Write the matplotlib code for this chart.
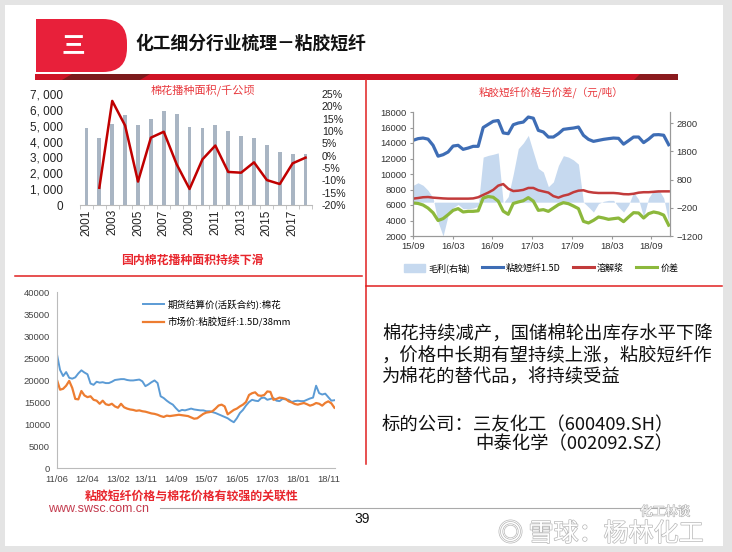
import matplotlib
matplotlib.use('Agg')
import matplotlib.pyplot as plt
from matplotlib.patches import Rectangle, FancyBboxPatch, Polygon, Patch
from matplotlib.lines import Line2D
import matplotlib.patheffects as pe
import numpy as np

plt.rcParams['font.family'] = ['Noto Sans CJK SC', 'DejaVu Sans']

# ---- chart 1: cotton planting area (thousand ha) and yoy change
years = list(range(2001, 2019))
area_kha = [4830, 4200, 5110, 5690, 5060, 5410, 5930, 5750, 4950, 4850,
            5040, 4690, 4350, 4220, 3800, 3350, 3230, 3200]
yoy_years = list(range(2002, 2019))
yoy_pct = [-13.0, 22.2, 12.2, -10.5, 7.3, 9.7, -3.5, -13.5, -1.5, 4.1,
           -6.6, -6.9, -2.7, -9.9, -11.5, -3.1, -0.8]

# ---- chart 2: VSF price / dissolving pulp / spread (left), margin (right)
m2_labels = ['15/09', '16/03', '16/09', '17/03', '17/09', '18/03', '18/09']
vsf_price = [14340, 14560, 14640, 14500, 13700, 12300, 12490, 12840, 13610, 13700,
             13180, 13350, 13570, 13570, 16000, 16400, 16800, 16900, 15300, 15200,
             16360, 16580, 16700, 17350, 17200, 15630, 15420, 14770, 14770, 15200,
             15760, 15850, 15930, 16060, 14990, 14470, 14210, 14340, 14470, 14560,
             14640, 14600, 13850, 14300, 14770, 14770, 14050, 14500, 15050, 15080,
             15000, 13780]
pulp_price = [6820, 6900, 7000, 7030, 6950, 6900, 6850, 6820, 6820, 6820,
              6820, 6820, 6850, 7000, 7300, 7600, 7950, 8500, 8700, 8100,
              7800, 7850, 7950, 8200, 8200, 7900, 7750, 7600, 7150, 6950,
              7200, 7350, 7650, 7850, 7900, 7700, 7600, 7550, 7550, 7550,
              7550, 7500, 7400, 7380, 7450, 7590, 7650, 7650, 7700, 7750,
              7760, 7760]
spread = [6260, 6200, 6000, 5600, 5000, 4000, 4240, 4750, 5310, 5530,
          5100, 5180, 5180, 5250, 6900, 7100, 7000, 6500, 5200, 4800,
          6200, 6390, 6550, 6950, 6500, 5310, 5400, 5180, 5610, 6040,
          6300, 6170, 5870, 5530, 3890, 3680, 4020, 4450, 4320, 4150,
          4240, 4320, 3850, 4450, 5010, 4970, 4320, 4880, 5100, 4970,
          4700, 3400]
margin = [595, 690, 600, 420, 150, -700, -1200, -470, -200, -80,
          -230, -230, -210, -140, 1600, 1660, 1700, 1750, -30, 200,
          1000, 1900, 2100, 2370, 1780, 1200, 1070, 550, 720, 1300,
          1650, 1600, 1500, 1350, 0, -170, -350, -50, 30, 65,
          65, -170, -350, -100, 350, 100, -530, 150, 420, 450,
          150, -700]

# ---- chart 3: cotton futures vs VSF market price, monthly from 2011/06
m3_ticks = [0, 10, 20, 29, 39, 49, 59, 69, 79, 89]
m3_labels = ['11/06', '12/04', '13/02', '13/11', '14/09', '15/07', '16/05', '17/03', '18/01', '18/11']
cotton_fut = [25800, 22300, 20900, 21800, 20500, 20300, 20600, 21500, 22200, 21700,
              21300, 19200, 18900, 19600, 19400, 19500, 19300, 19300, 19600, 20000,
              20100, 20200, 20200, 20000, 19900, 19900, 20000, 20100, 19700, 18600,
              19000, 19500, 19900, 19300, 16300, 15900, 15300, 14800, 14400, 13600,
              12900, 13200, 13100, 13300, 13500, 13300, 13200, 13100, 13100, 12900,
              12900, 12700, 12500, 12200, 11900, 11600, 11300, 10800, 10400, 11300,
              12500, 13200, 14200, 15000, 15500, 15300, 15200, 15900, 16000, 15500,
              15700, 15900, 15300, 15200, 15700, 15600, 15500, 15000, 15200, 15300,
              15200, 15200, 15500, 15800, 16000, 18700, 17000, 16700, 16900, 16100,
              15300, 15400]
vsf_market = [20000, 17800, 18000, 18700, 19800, 18200, 15700, 15600, 17500, 16500,
              16100, 16300, 15500, 15300, 14600, 15300, 14500, 14300, 14600, 14000,
              13700, 14600, 13800, 13500, 13300, 13200, 13000, 13100, 12900, 12800,
              12600, 12400, 12300, 12100, 11800, 11600, 11900, 11800, 11900, 12000,
              12100, 12000, 11900, 11800, 11500, 11200, 11300, 11800, 12300, 12600,
              12700, 12900, 13500, 14200, 14400, 14000, 12200, 12700, 13200, 13500,
              14000, 14400, 15000, 16600, 17000, 17200, 16500, 16400, 16600, 17400,
              17300, 15500, 15700, 16000, 15900, 15700, 15150, 14900, 14550, 14400,
              14600, 14770, 14500, 14170, 14390, 14770, 14600, 14170, 14800, 15150,
              14700, 13700]

W, H = 732, 552
RED = '#e02020'
CAP_RED = '#e8262d'
NUMFONT = 'Liberation Sans'


def box(l, t, r, b):
    return [l / W, 1 - b / H, (r - l) / W, (b - t) / H]


def num_font(ax, size, color='#333333'):
    for lab in ax.get_xticklabels() + ax.get_yticklabels():
        lab.set_fontfamily(NUMFONT)
        lab.set_fontsize(size)
        lab.set_color(color)


fig = plt.figure(figsize=(W / 100, H / 100), dpi=100, facecolor='#e4e4e4')

# background layer in pixel coordinates
bg = fig.add_axes([0, 0, 1, 1])
bg.set_zorder(-10)
bg.set_xlim(0, W)
bg.set_ylim(H, 0)
bg.axis('off')
bg.add_patch(Rectangle((5, 5), 718, 541, color='white', lw=0))

# header tab and band
bg.add_patch(Rectangle((36, 19), 50, 53, color='#e8203a', lw=0))
bg.add_patch(FancyBboxPatch((50, 19), 77, 53, boxstyle='round,pad=0,rounding_size=24',
                            color='#e8203a', lw=0))
bg.text(73, 46, '三', color='white', fontsize=17, fontweight='bold', ha='center', va='center')
bg.text(135, 44, '化工细分行业梳理－粘胶短纤', fontsize=12.8, fontweight='bold',
        ha='left', va='center', color='#111111')
bg.add_patch(Rectangle((35, 74), 643, 6, color='#cf1426', lw=0))
bg.add_patch(Polygon([(72, 74), (150, 74), (140, 80), (62, 80)], color='#7c1a1c', lw=0))
bg.add_patch(Polygon([(640, 74), (678, 74), (678, 80), (634, 80)], color='#8a1a1e', lw=0))

# divider lines
bg.plot([15, 362], [276, 276], color=RED, lw=1.1)
bg.plot([366, 366], [80, 464], color=RED, lw=1.1)
bg.plot([366, 722], [286, 286], color=RED, lw=1.1)
bg.plot([160, 687], [508, 508], color='#aaaaaa', lw=0.8)

# ---------------- chart 1
ax1 = fig.add_axes(box(80, 94, 312, 205))
ax1.patch.set_visible(False)
x1 = np.arange(len(years))
ax1.bar(x1, area_kha, width=0.3, color='#a9b5c3', zorder=2)
ax1.set_xlim(-0.5, len(years) - 0.5)
ax1.set_ylim(0, 7000)
ax1.set_yticks(range(0, 7001, 1000))
ax1.set_yticklabels([f'{v:,}'.replace(',', ', ') for v in range(0, 7001, 1000)])
ax1.set_xticks(x1[::2])
ax1.set_xticklabels([str(y) for y in years[::2]], rotation=90)
ax1.set_xticks(np.arange(-0.5, len(years), 1), minor=True)
ax1.tick_params(axis='y', length=0, pad=12)
ax1.tick_params(axis='x', which='major', length=0, pad=3)
ax1.tick_params(axis='x', which='minor', length=3, color='#bbbbbb')
for s in ['left', 'top', 'right']:
    ax1.spines[s].set_visible(False)
ax1.spines['bottom'].set_color('#bbbbbb')
num_font(ax1, 8.5, '#222222')

ax1r = ax1.twinx()
ax1r.plot([years.index(y) for y in yoy_years], yoy_pct, color='#c00000', lw=1.8, zorder=3)
ax1r.set_ylim(-20, 25)
ax1r.set_yticks(range(-20, 26, 5))
ax1r.set_yticklabels([f'{v}%' for v in range(-20, 26, 5)])
ax1r.tick_params(axis='y', length=0, pad=7)
for s in ax1r.spines.values():
    s.set_visible(False)
num_font(ax1r, 7.6, '#222222')

bg.text(203, 91, '棉花播种面积/千公顷', color='#e8383d', fontsize=8, ha='center', va='center')
bg.text(192, 260, '国内棉花播种面积持续下滑', color=CAP_RED, fontsize=8.6, fontweight='bold',
        ha='center', va='center')

# ---------------- chart 2
ax2 = fig.add_axes(box(413, 112, 670, 236))
m2 = np.linspace(0, 38.6, len(vsf_price))
ax2r = ax2.twinx()
ax2r.set_zorder(ax2.get_zorder() - 1)
ax2.patch.set_visible(False)
ax2r.patch.set_visible(False)
ax2r.fill_between(m2, 0, margin, color='#c6d9ef', lw=0)
ax2r.set_ylim(-1200, 3200)
ax2r.set_yticks([-1200, -200, 800, 1800, 2800])
ax2.plot(m2, vsf_price, color='#3e6db5', lw=2.3)
ax2.plot(m2, pulp_price, color='#c23b3b', lw=1.8)
ax2.plot(m2, spread, color='#8cb83c', lw=2.3)
ax2.set_xlim(0, 38.8)
ax2.set_ylim(2000, 18000)
ax2.set_yticks(range(2000, 18001, 2000))
ax2.set_xticks(range(0, 37, 6))
ax2.set_xticklabels(m2_labels)
for a in (ax2, ax2r):
    a.spines['top'].set_visible(False)
    for s in ['left', 'right', 'bottom']:
        a.spines[s].set_color('#999999')
    a.tick_params(length=2.5, color='#999999', pad=2)
num_font(ax2, 6.8)
num_font(ax2r, 6.8)

bg.text(551, 92, '粘胶短纤价格与价差/（元/吨）', color='#e8383d', fontsize=7.6, ha='center', va='center')
h2 = [Patch(color='#c6d9ef'), Line2D([], [], color='#3e6db5', lw=2.2),
      Line2D([], [], color='#c23b3b', lw=2.2), Line2D([], [], color='#8cb83c', lw=2.2)]
fig.legend(h2, ['毛利(右轴)', '粘胶短纤1.5D', '溶解浆', '价差'], loc='center',
           bbox_to_anchor=(541 / W, 1 - 268 / H), ncol=4, frameon=False, fontsize=6.5,
           handlelength=2.3, handleheight=0.9, columnspacing=1.3, handletextpad=0.4)

# ---------------- chart 3
ax3 = fig.add_axes(box(57, 292, 335, 468))
ax3.patch.set_visible(False)
m3 = np.arange(len(cotton_fut))
ax3.plot(m3, cotton_fut, color='#5b9bd5', lw=1.4, label='期货结算价(活跃合约):棉花')
ax3.plot(m3, vsf_market, color='#ed7d31', lw=1.6, label='市场价:粘胶短纤:1.5D/38mm')
ax3.set_xlim(0, 91.2)
ax3.set_ylim(0, 40000)
ax3.set_yticks(range(0, 40001, 5000))
ax3.set_xticks(m3_ticks)
ax3.set_xticklabels(m3_labels)
ax3.tick_params(length=0, pad=5)
ax3.spines['top'].set_visible(False)
ax3.spines['right'].set_visible(False)
ax3.spines['left'].set_color('#bbbbbb')
ax3.spines['bottom'].set_color('#bbbbbb')
num_font(ax3, 6.8, '#444444')
ax3.legend(loc='upper left', bbox_to_anchor=((138 - 57) / 278, (468 - 295) / 176),
           borderpad=0, handlelength=2.3, fontsize=6.8, labelspacing=0.85,
           handletextpad=0.3, frameon=False)

bg.text(192, 496, '粘胶短纤价格与棉花价格有较强的关联性', color=CAP_RED, fontsize=8.6,
        fontweight='bold', ha='center', va='center')
bg.text(48, 509.5, 'www.swsc.com.cn', color='#c33b4e', fontsize=9, fontfamily=NUMFONT,
        ha='left', va='center')
bg.text(362, 519, '39', color='#111111', fontsize=10, fontfamily=NUMFONT, ha='center', va='center')

# ---------------- right text block
body = ['棉花持续减产，国储棉轮出库存水平下降',
        '，价格中长期有望持续上涨，粘胶短纤作',
        '为棉花的替代品，将持续受益']
for i, line in enumerate(body):
    bg.text(382, 335 + 21.5 * i, line, fontsize=13.2, ha='left', va='center', color='#111111')
bg.text(382, 425, '标的公司：三友化工（600409.SH）', fontsize=13.2, ha='left', va='center', color='#111111')
bg.text(475, 444, '中泰化学（002092.SZ）', fontsize=13.2, ha='left', va='center', color='#111111')

# watermark
wm = [pe.withStroke(linewidth=1.0, foreground='#b8b8b8')]
bg.text(640, 512, '化工林谈', fontsize=9, color='white', ha='left', va='center', path_effects=wm)
bg.text(498, 534, '◎ 雪球：杨林化工', fontsize=18, color='white', ha='left', va='center',
        path_effects=wm, family=['Noto Sans CJK SC', 'DejaVu Sans'])

fig.savefig('out.png', dpi=100, facecolor=fig.get_facecolor())
